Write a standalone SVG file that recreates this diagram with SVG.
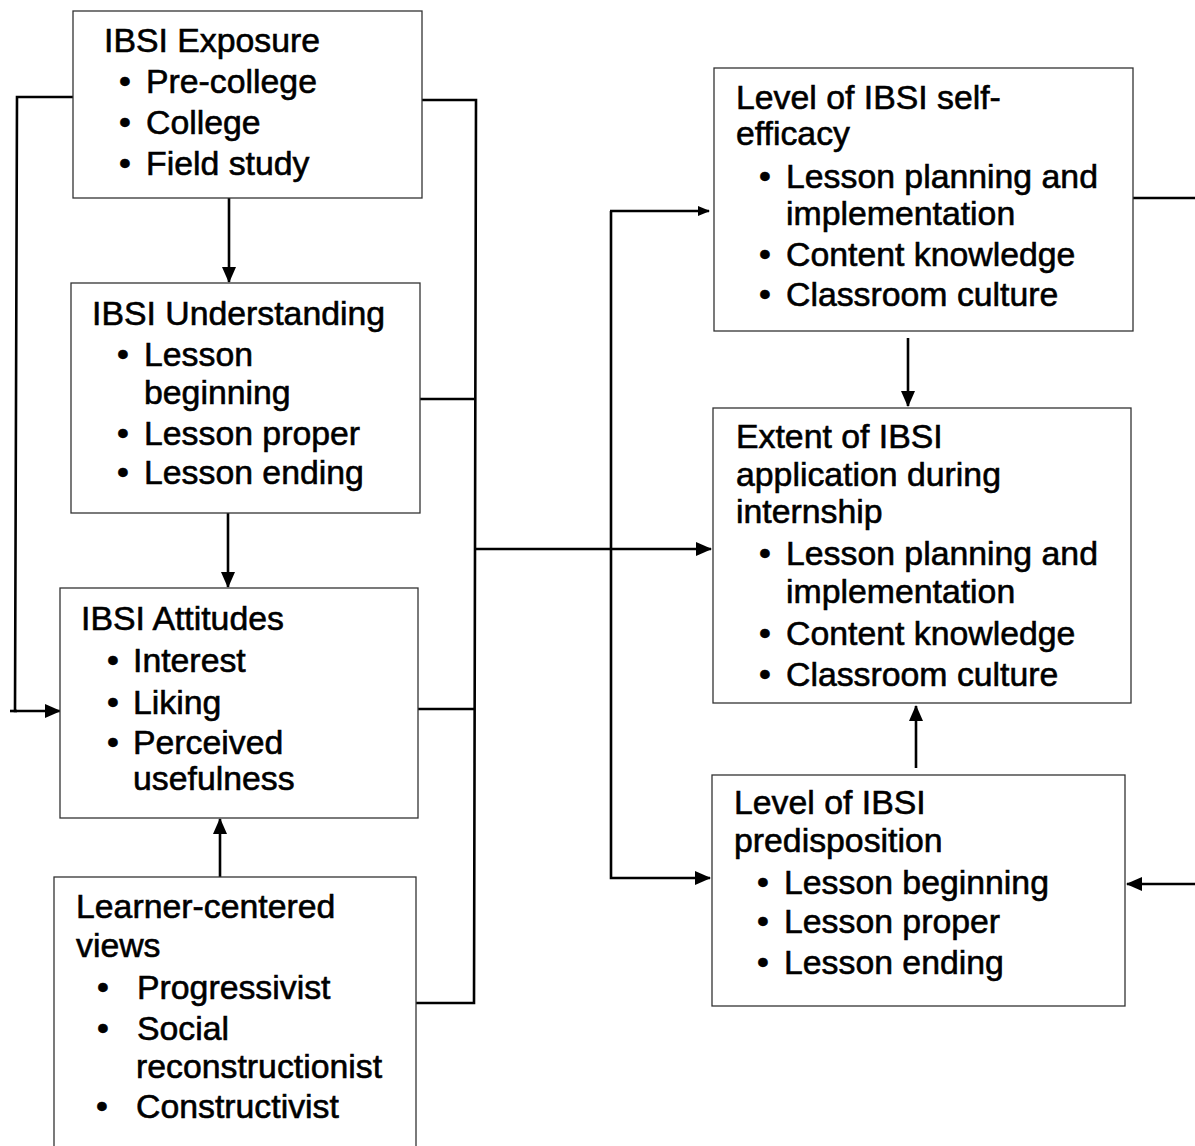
<svg xmlns="http://www.w3.org/2000/svg" width="1195" height="1146" viewBox="0 0 1195 1146">
<style>
.box{fill:#fff;stroke:#333;stroke-width:1.3}
text{font-family:"Liberation Sans",Arial,sans-serif;font-size:33.8px;fill:#000;stroke:#000;stroke-width:0.6}
.c{fill:none;stroke:#000;stroke-width:2.6}
</style>
<defs>
<marker id="ah" markerWidth="16" markerHeight="14" refX="15" refY="7" orient="auto" markerUnits="userSpaceOnUse">
<path d="M0,0 L16,7 L0,14 Z" fill="#000"/>
</marker>
<marker id="ahs" markerWidth="12" markerHeight="10" refX="11" refY="5" orient="auto" markerUnits="userSpaceOnUse">
<path d="M0,0 L12,5 L0,10 Z" fill="#000"/>
</marker>
</defs>
<rect width="1195" height="1146" fill="#fff"/>
<g id="connectors">
<polyline class="c" points="73,97 17,97 15,711 60,711" marker-end="url(#ah)"/>
<line class="c" x1="10" y1="711" x2="17" y2="711"/>
<line class="c" x1="229" y1="198" x2="229" y2="282" marker-end="url(#ah)"/>
<line class="c" x1="228" y1="513" x2="228" y2="587" marker-end="url(#ah)"/>
<line class="c" x1="220" y1="877" x2="220" y2="819" marker-end="url(#ah)"/>
<polyline class="c" points="422,100 476,100 474,1003 416,1003"/>
<line class="c" x1="420" y1="399" x2="474" y2="399"/>
<line class="c" x1="418" y1="709" x2="474" y2="709"/>
<line class="c" x1="474" y1="549" x2="711" y2="549" marker-end="url(#ah)"/>
<polyline class="c" points="611,211 611,878 710,878" marker-end="url(#ah)"/>
<line class="c" x1="610" y1="211" x2="709" y2="211" marker-end="url(#ahs)"/>
<line class="c" x1="908" y1="338" x2="908" y2="406" marker-end="url(#ah)"/>
<line class="c" x1="916" y1="768" x2="916" y2="706" marker-end="url(#ah)"/>
<line class="c" x1="1133" y1="198" x2="1195" y2="198"/>
<line class="c" x1="1195" y1="884" x2="1127" y2="884" marker-end="url(#ah)"/>
</g>
<g id="exposure">
<rect class="box" x="73" y="11" width="349" height="187"/>
<text x="104" y="52">IBSI Exposure</text>
<text><tspan x="119" y="93">•</tspan><tspan x="146" y="93">Pre-college</tspan></text>
<text><tspan x="119" y="134">•</tspan><tspan x="146" y="134">College</tspan></text>
<text><tspan x="119" y="175">•</tspan><tspan x="146" y="175">Field study</tspan></text>
</g>
<g id="understanding">
<rect class="box" x="71" y="283" width="349" height="230"/>
<text x="92" y="325">IBSI Understanding</text>
<text><tspan x="117" y="366">•</tspan><tspan x="144" y="366">Lesson</tspan></text>
<text x="144" y="404">beginning</text>
<text><tspan x="117" y="445">•</tspan><tspan x="144" y="445">Lesson proper</tspan></text>
<text><tspan x="117" y="484">•</tspan><tspan x="144" y="484">Lesson ending</tspan></text>
</g>
<g id="attitudes">
<rect class="box" x="60" y="588" width="358" height="230"/>
<text x="81" y="630">IBSI Attitudes</text>
<text><tspan x="107" y="672">•</tspan><tspan x="133" y="672">Interest</tspan></text>
<text><tspan x="107" y="714">•</tspan><tspan x="133" y="714">Liking</tspan></text>
<text><tspan x="107" y="754">•</tspan><tspan x="133" y="754">Perceived</tspan></text>
<text x="133" y="790">usefulness</text>
</g>
<g id="learner">
<rect class="box" x="54" y="877" width="362" height="280"/>
<text x="76" y="918">Learner-centered</text>
<text x="76" y="957">views</text>
<text><tspan x="97" y="999">•</tspan><tspan x="137" y="999">Progressivist</tspan></text>
<text><tspan x="97" y="1040">•</tspan><tspan x="137" y="1040">Social</tspan></text>
<text x="136" y="1078">reconstructionist</text>
<text><tspan x="96" y="1118">•</tspan><tspan x="136" y="1118">Constructivist</tspan></text>
</g>
<g id="selfefficacy">
<rect class="box" x="714" y="68" width="419" height="263"/>
<text x="736" y="109">Level of IBSI self-</text>
<text x="736" y="145">efficacy</text>
<text><tspan x="759" y="188">•</tspan><tspan x="786" y="188">Lesson planning and</tspan></text>
<text x="786" y="225">implementation</text>
<text><tspan x="759" y="266">•</tspan><tspan x="786" y="266">Content knowledge</tspan></text>
<text><tspan x="759" y="306">•</tspan><tspan x="786" y="306">Classroom culture</tspan></text>
</g>
<g id="extent">
<rect class="box" x="713" y="408" width="418" height="295"/>
<text x="736" y="448">Extent of IBSI</text>
<text x="736" y="486">application during</text>
<text x="736" y="523">internship</text>
<text><tspan x="759" y="565">•</tspan><tspan x="786" y="565">Lesson planning and</tspan></text>
<text x="786" y="603">implementation</text>
<text><tspan x="759" y="645">•</tspan><tspan x="786" y="645">Content knowledge</tspan></text>
<text><tspan x="759" y="686">•</tspan><tspan x="786" y="686">Classroom culture</tspan></text>
</g>
<g id="predisposition">
<rect class="box" x="712" y="775" width="413" height="231"/>
<text x="734" y="814">Level of IBSI</text>
<text x="734" y="852">predisposition</text>
<text><tspan x="757" y="894">•</tspan><tspan x="784" y="894">Lesson beginning</tspan></text>
<text><tspan x="757" y="933">•</tspan><tspan x="784" y="933">Lesson proper</tspan></text>
<text><tspan x="757" y="974">•</tspan><tspan x="784" y="974">Lesson ending</tspan></text>
</g>
</svg>
